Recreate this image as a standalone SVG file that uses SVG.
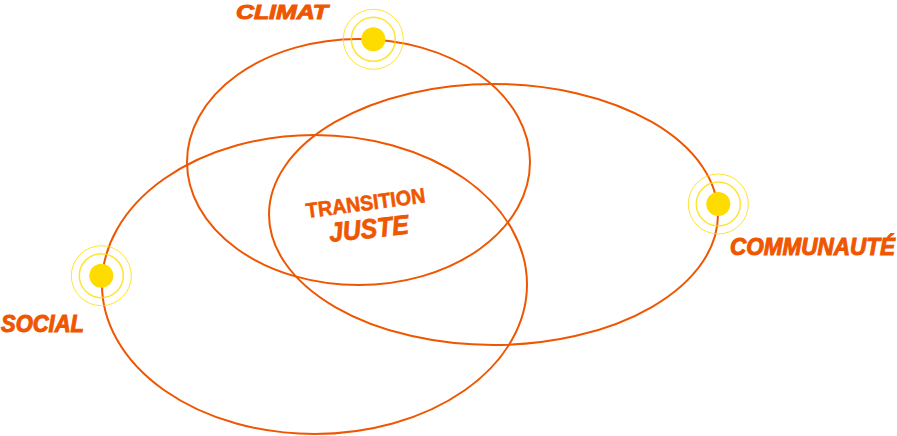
<svg xmlns="http://www.w3.org/2000/svg" width="897" height="436" viewBox="0 0 897 436">
<style>
.loop{fill:none;stroke:#ef5600;stroke-width:2}
.ring{fill:none;stroke:#ffdc00;stroke-opacity:.8}
.ring1{stroke-width:1}
.ring2{stroke-width:1.5}
.core{fill:#ffdc00}
text{fill:#ef5600;stroke:#ef5600;font-family:"Liberation Sans",Arial,sans-serif;font-weight:700;font-style:italic}
.lab{stroke-width:1px}
</style>
<rect width="897" height="436" fill="#fff"/>
<g id="connectors">
<ellipse class="loop" cx="358.5" cy="162" rx="171.5" ry="123"/>
<ellipse class="loop" cx="493.5" cy="214.5" rx="224.5" ry="130.5"/>
<ellipse class="loop" cx="314.5" cy="284.5" rx="212.5" ry="149.5"/>
</g>
<g id="node-climat">
<circle class="ring ring1" cx="373.3" cy="39.3" r="30"/>
<circle class="ring ring2" cx="373.3" cy="39.3" r="22"/>
<circle class="core" cx="373.3" cy="39.3" r="12"/>
<text class="lab" x="236" y="18.5" font-size="20" textLength="92" lengthAdjust="spacingAndGlyphs">CLIMAT</text>
</g>
<g id="node-communaute">
<circle class="ring ring1" cx="718.3" cy="204" r="30"/>
<circle class="ring ring2" cx="718.3" cy="204" r="22"/>
<circle class="core" cx="718.3" cy="204" r="12"/>
<text class="lab" x="730" y="254.5" font-size="23" textLength="165" lengthAdjust="spacingAndGlyphs">COMMUNAUTÉ</text>
</g>
<g id="node-social">
<circle class="ring ring1" cx="101.3" cy="275.7" r="30"/>
<circle class="ring ring2" cx="101.3" cy="275.7" r="22"/>
<circle class="core" cx="101.3" cy="275.7" r="12"/>
<text class="lab" x="1" y="331.5" font-size="23" textLength="83" lengthAdjust="spacingAndGlyphs">SOCIAL</text>
</g>
<g id="node-centre">
<text x="307" y="218" font-size="21" stroke-width=".6" style="font-style:normal" textLength="120" lengthAdjust="spacingAndGlyphs" transform="rotate(-7.5 307 218)">TRANSITION</text>
<text x="330" y="242" font-size="27" stroke-width=".8" textLength="80" lengthAdjust="spacingAndGlyphs" transform="rotate(-6 330 242)">JUSTE</text>
</g>
</svg>
